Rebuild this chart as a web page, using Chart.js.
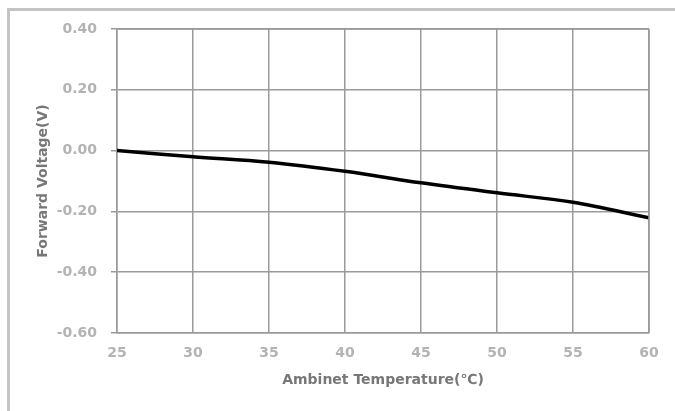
<!DOCTYPE html>
<html>
<head>
<meta charset="utf-8">
<script src="https://cdn.jsdelivr.net/npm/chart.js@4.4.0/dist/chart.umd.min.js"></script>
<style>
  html, body { margin: 0; padding: 0; background: #fff; }
  #wrap { position: relative; width: 675px; height: 411px; overflow: hidden; }
  #frame {
    position: absolute; left: 7px; top: 8px; width: 700px; height: 420px;
    border-top: 3px solid #c4c4c4; border-left: 3px solid #c4c4c4;
  }
  #chart { position: absolute; left: 0; top: 0; }
</style>
</head>
<body>
<div id="wrap">
  <div id="frame"></div>
  <canvas id="chart" width="675" height="411"></canvas>
</div>
<script>
// Données
const temperatures = [25, 30, 35, 40, 45, 50, 55, 60];
const forwardVoltage = [0.00, -0.020, -0.038, -0.068, -0.106, -0.139, -0.170, -0.221];
const yTickLabels = [0.40, 0.20, 0.00, -0.20, -0.40, -0.60];
const xTitle = 'Ambinet Temperature(℃)';
const yTitle = 'Forward Voltage(V)';

const tickFont = { family: '"DejaVu Sans", sans-serif', size: 14, weight: 'bold' };
const titleFont = { family: '"DejaVu Sans", sans-serif', size: 14, weight: 'bold' };
const gridColor = '#9a9a9a';

const ctx = document.getElementById('chart').getContext('2d');
new Chart(ctx, {
    type: 'line',
    data: {
        datasets: [{
            data: temperatures.map((t, i) => ({ x: t, y: forwardVoltage[i] })),
            borderColor: '#000',
            borderWidth: 3.5,
            pointRadius: 0,
            tension: 0.35,
            fill: false
        }]
    },
    options: {
        responsive: false,
        animation: false,
        layout: { padding: { left: 0, right: 26, top: 29, bottom: 0 } },
        plugins: { legend: { display: false }, tooltip: { enabled: false } },
        scales: {
            x: {
                type: 'linear',
                min: 25,
                max: 60,
                afterFit: scale => { scale.height = 78; },
                ticks: {
                    stepSize: 5,
                    color: '#b3b3b3',
                    font: tickFont,
                    padding: 12,
                    maxRotation: 0
                },
                grid: { color: gridColor, lineWidth: 1.5, drawTicks: false },
                border: { color: gridColor, width: 1.5 },
                title: {
                    display: true,
                    text: xTitle,
                    color: '#777',
                    font: titleFont,
                    padding: { top: 0, bottom: 22 }
                }
            },
            y: {
                min: -0.6,
                max: 0.4,
                afterFit: scale => { scale.width = 117; },
                afterBuildTicks: scale => {
                    scale.ticks = yTickLabels.map(v => ({ value: v }));
                },
                ticks: {
                    color: '#b3b3b3',
                    font: tickFont,
                    padding: 14,
                    callback: v => (Math.abs(v) < 1e-9 ? 0 : v).toFixed(2)
                },
                grid: { color: gridColor, lineWidth: 1.5, tickLength: 6 },
                border: { color: gridColor, width: 1.5 },
                title: {
                    display: true,
                    text: yTitle,
                    color: '#777',
                    font: titleFont,
                    padding: { top: 35, bottom: 0 }
                }
            }
        }
    },
    plugins: [{
        // bordure droite et haute de la zone de tracé
        id: 'plotBorder',
        afterDraw(chart) {
            const a = chart.chartArea;
            const c = chart.ctx;
            c.save();
            c.strokeStyle = gridColor;
            c.lineWidth = 1.5;
            c.beginPath();
            c.moveTo(a.right, a.top);
            c.lineTo(a.right, a.bottom);
            c.moveTo(a.left, a.top);
            c.lineTo(a.right, a.top);
            c.stroke();
            c.restore();
        }
    }]
});
</script>
</body>
</html>
